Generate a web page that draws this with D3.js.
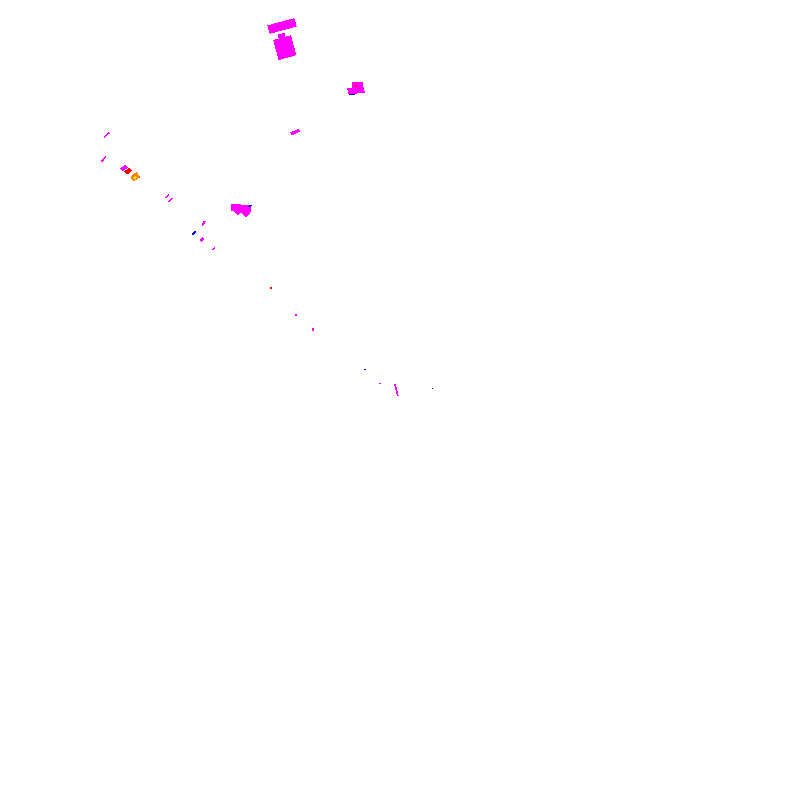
<!DOCTYPE html>
<html>
<head>
<meta charset="utf-8">
<script src="https://cdn.jsdelivr.net/npm/d3@7"></script>
<style>
  html, body { margin: 0; padding: 0; background: #ffffff; }
</style>
</head>
<body>
<svg id="map" width="800" height="800"></svg>
<script>
// mark centres and sizes in map units (0..100 on both axes)
const markX = [35.25, 35.2, 35.6, 44.7, 44.5, 44.5, 43.95, 36.9, 13.3, 12.95, 15.5, 16.0, 16.9, 16.9, 17.35,
    20.9, 21.3, 29.5, 30.7, 29.75, 30.75, 31.25, 25.45, 24.25, 25.25, 26.7, 33.9, 37.0, 39.1, 45.6, 47.5, 49.55, 54.1];
const markY = [3.25, 4.45, 5.95, 10.6, 11.3, 10.75, 11.8, 16.5, 16.9, 19.9, 21.0, 21.4, 22.1, 22.2, 22.1,
    24.5, 25.0, 25.9, 26.1, 26.4, 26.6, 25.75, 27.9, 29.1, 29.95, 31.1, 36.0, 39.4, 41.2, 46.2, 47.9, 48.75, 48.6];
const markW = [3.5, 0.9, 2.3, 1.4, 2.1, 0.25, 0.75, 1.15, 0.9, 0.9, 0.8, 0.8, 1.0, 0.35, 0.25,
    0.65, 0.65, 1.3, 1.4, 0.85, 0.85, 0.5, 0.65, 0.65, 0.5, 0.5, 0.25, 0.25, 0.25, 0.3, 0.15, 0.2, 0.15];
const markH = [1.1, 0.5, 2.6, 0.7, 0.8, 0.15, 0.2, 0.4, 0.2, 0.2, 0.5, 0.55, 0.75, 0.3, 0.25,
    0.2, 0.2, 0.9, 0.9, 0.85, 0.85, 0.25, 0.25, 0.25, 0.35, 0.2, 0.25, 0.25, 0.4, 0.15, 0.15, 1.5, 0.15];
const markAngle = [-15, -10, -15, 0, -5, 0, 0, -25, -40, -50, -35, -40, -40, -40, 0,
    -45, -45, 0, 0, 45, 45, -30, -60, -45, -45, -55, 0, 0, 0, 0, 0, -15, 0];
const markKind = ["M", "M", "M", "M", "M", "R", "B", "M", "M", "M", "M", "R", "O", "Y", "M",
    "M", "M", "M", "M", "M", "M", "B", "M", "B", "M", "M", "R", "M", "M", "B", "M", "M", "B"];

const kinds = ["M", "R", "O", "Y", "B"];
const kindColors = ["#ff00ff", "#ff0000", "#ff8000", "#ffff00", "#0000ff"];

const svg = d3.select("#map");
const x = d3.scaleLinear().domain([0, 100]).range([0, 800]);
const y = d3.scaleLinear().domain([0, 100]).range([0, 800]);
const color = d3.scaleOrdinal().domain(kinds).range(kindColors);

const marks = markX.map((v, i) => ({
    x: v, y: markY[i], w: markW[i], h: markH[i], a: markAngle[i], k: markKind[i]
}));

// magenta first so the small coloured bits sit on top
const order = d => (d.k === "M" ? 0 : 1);
marks.sort((a, b) => order(a) - order(b));

svg.append("g")
    .attr("shape-rendering", "crispEdges")
    .selectAll("rect")
    .data(marks)
    .enter()
    .append("rect")
    .attr("transform", d => "translate(" + x(d.x) + "," + y(d.y) + ") rotate(" + d.a + ")")
    .attr("x", d => -(x(d.w) - x(0)) / 2)
    .attr("y", d => -(y(d.h) - y(0)) / 2)
    .attr("width", d => x(d.w) - x(0))
    .attr("height", d => y(d.h) - y(0))
    .attr("fill", d => color(d.k));
</script>
</body>
</html>
